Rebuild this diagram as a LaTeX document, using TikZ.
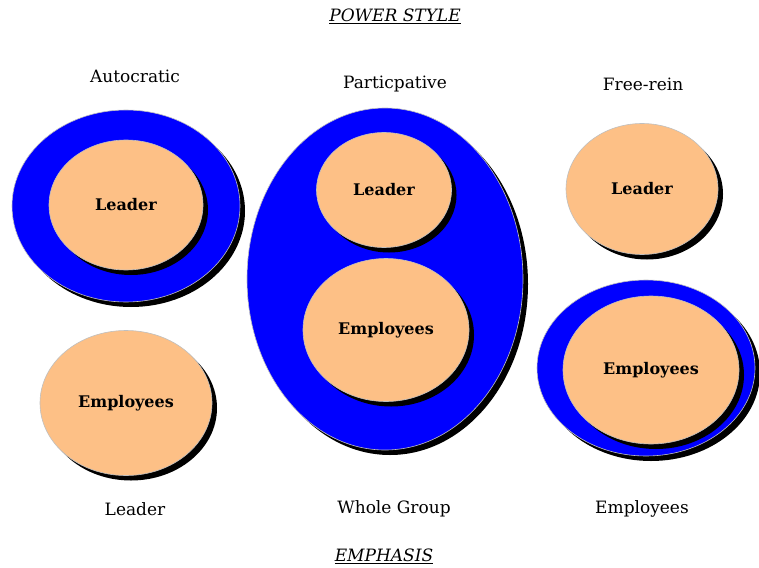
\documentclass[tikz,border=0pt]{standalone}
\usepackage{fontspec}
\setmainfont{DejaVu Serif}
\usetikzlibrary{positioning, shapes.geometric, shadows}
\definecolor{peach}{RGB}{253,192,134}
\definecolor{ringblue}{RGB}{0,0,255}
\tikzset{
  % ellipses
  blob/.style={ellipse, draw=gray!50, line width=0.6pt, inner sep=0pt,
    drop shadow={opacity=1, fill=black, shadow xshift=5pt, shadow yshift=-5pt},
    font=\fontsize{16}{19}\selectfont\bfseries},
  person/.style={blob, fill=peach},
  ring/.style={blob, fill=ringblue},
  lbl/.style={font=\fontsize{17}{20}\selectfont},
  heading/.style={font=\fontsize{17}{20}\selectfont\itshape}
}

\begin{document}
\begin{tikzpicture}[x=1pt, y=-1pt]
  \useasboundingbox (0,0) rectangle (759,567);

  \node[heading] (power) at (395,16) {\underline{POWER STYLE}};

  % autocratic
  \node[lbl] (auto) at (135,76) {Autocratic};
  \node[ring, minimum width=228pt, minimum height=192pt] (autoring) at (126,206) {};
  \node[person, minimum width=154pt, minimum height=130pt] (autolead) at (126,205) {Leader};
  \node[person, minimum width=172pt, minimum height=145pt] (autoemp) at (126,403) {Employees};
  \node[lbl] (autoemph) at (135,509) {Leader};

  % participative
  \node[lbl] (part) at (395,84) {Particpative};
  \node[ring, minimum width=276pt, minimum height=342pt] (partring) at (385,279) {};
  \node[person, minimum width=135pt, minimum height=115pt] (partlead) at (384,190) {Leader};
  \node[person, minimum width=166pt, minimum height=143pt] (partemp) at (386,330) {Employees};
  \node[lbl] (partemph) at (394,509) {Whole Group};

  % free-rein
  \node[lbl] (free) at (643,84) {Free-rein};
  \node[person, minimum width=152pt, minimum height=131pt] (freelead) at (642,189) {Leader};
  \node[ring, minimum width=218pt, minimum height=176pt] (freering) at (646,368) {};
  \node[person, minimum width=176pt, minimum height=148pt] (freeemp) at (651,370) {Employees};
  \node[lbl] (freeemph) at (642,509) {Employees};

  \node[heading] (emph) at (384,556) {\underline{EMPHASIS}};
\end{tikzpicture}
\end{document}
